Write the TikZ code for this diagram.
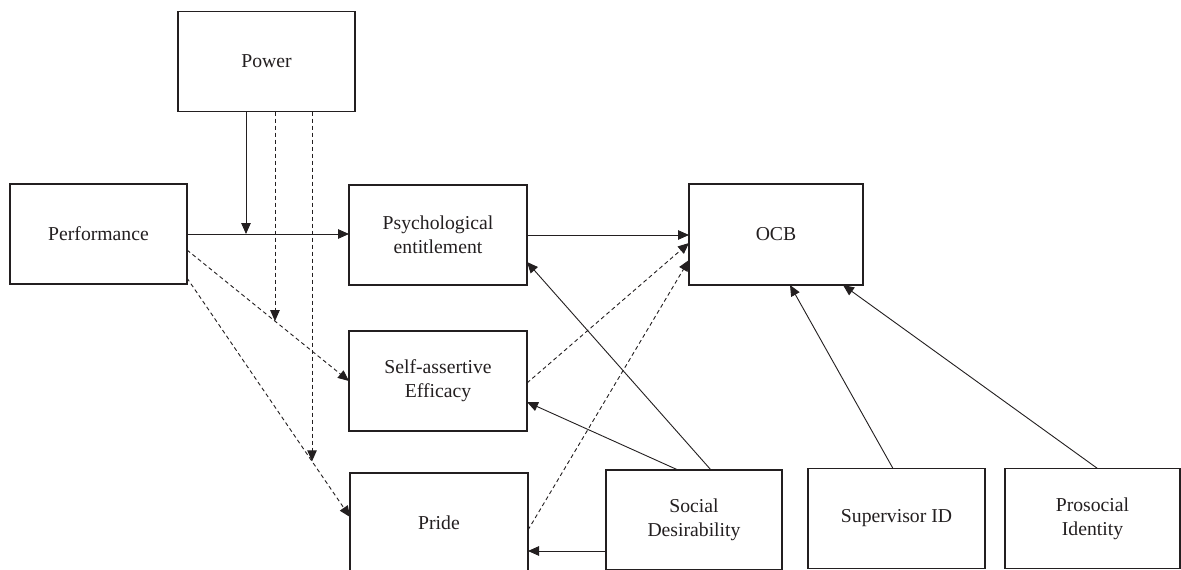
\documentclass[tikz,border=0pt]{standalone}
\usepackage{fontspec}
\setmainfont{Liberation Serif}
\usetikzlibrary{arrows.meta,calc}
\definecolor{ink}{HTML}{231F20}
\begin{document}
\begin{tikzpicture}[x=1pt,y=-1pt,
  box/.style={draw=ink,line width=1.6pt,minimum width=#1,minimum height=100pt,inner sep=0pt,outer sep=0pt,align=center,text=ink,font=\fontsize{19.7}{24}\selectfont},
  box/.default=177pt,
  arr/.style={draw=ink,line width=0.9pt,-{Triangle[length=11pt,width=9.5pt]}},
  darr/.style={arr,dash pattern=on 4pt off 3pt}]
\clip (0,0) rectangle (1181,570);
\fill[white] (0,0) rectangle (1181,570);
% nodes
\node[box] (power) at (266.5,61.5) {Power};
\node[box] (perf) at (98.5,234) {Performance};
\node[box=178pt] (psych) at (438,235) {Psychological\\entitlement};
\node[box=178pt] (sae) at (438,381) {Self-assertive\\Efficacy};
\node[box=178pt] (pride) at (439,523) {Pride};
\node[box=176pt] (sd) at (694,520) {Social\\Desirability};
\node[box] (sup) at (896.5,518.5) {Supervisor ID};
\node[box=175pt] (pro) at (1092.5,518.5) {Prosocial\\Identity};
\node[box=174pt,minimum height=101pt] (ocb) at (776,234.5) {OCB};
% main solid path
\draw[arr] (perf.east) -- (perf.east -| psych.west);
\draw[arr] ([xshift=-20.5pt]power.south) -- ([xshift=-20.5pt]power.south |- perf.east);
% dashed from performance
\coordinate (pa) at ([yshift=-16pt]perf.east);
\coordinate (pb) at ([yshift=-44pt]perf.east);
\coordinate (sw) at (sae.west);
\coordinate (pw) at ([yshift=6pt]pride.west);
\draw[darr] (pa) -- (sw);
\draw[darr] (pb) -- (pw);
\coordinate (m2) at ($(pa)!0.543!(sw)$);
\coordinate (m3) at ($(pb)!0.767!(pw)$);
\draw[darr] (m2 |- power.south) -- (m2);
\draw[darr] (m3 |- power.south) -- (m3);
% to OCB
\draw[arr] (psych.east) -- (psych.east -| ocb.west);
\draw[darr] ([yshift=-2pt]sae.east) -- ([yshift=-8.5pt]ocb.west);
\draw[darr] ([yshift=-7pt]pride.east) -- ([yshift=-25.5pt]ocb.west);
% social desirability
\draw[arr] ([xshift=17pt]sd.north) -- ([yshift=-27pt]psych.east);
\draw[arr] ([xshift=-16pt]sd.north) -- ([yshift=-21pt]sae.east);
\draw[arr] ([yshift=-31pt]sd.west) -- ([yshift=-31pt]sd.west -| pride.east);
% moderators of OCB
\draw[arr] ([xshift=-3.5pt]sup.north) -- ([xshift=14pt]ocb.south);
\draw[arr] ([xshift=5pt]pro.north) -- ([xshift=67pt]ocb.south);
\end{tikzpicture}
\end{document}
